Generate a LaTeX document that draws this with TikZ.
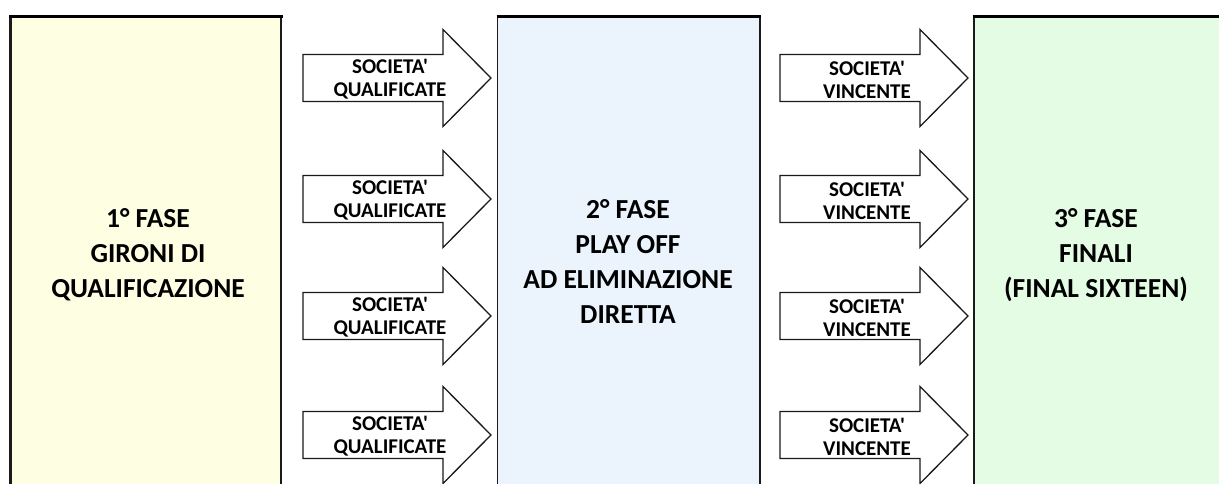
\documentclass[tikz,border=0pt]{standalone}
\usepackage{fontspec}
\setmainfont{Carlito}[Ligatures=TeXOff]
\definecolor{yfill}{HTML}{FEFEE3}
\definecolor{bfill}{HTML}{EBF3FC}
\definecolor{gfill}{HTML}{E4FCE4}
\definecolor{edge}{HTML}{1A1A1A}
\newcommand\phasearrow[3]{%
  \draw[arr] (#1,#2-23.5) -- (#1+140,#2-23.5) -- (#1+140,#2-48.5) -- (#1+188,#2)
    -- (#1+140,#2+48.5) -- (#1+140,#2+23.5) -- (#1,#2+23.5) -- cycle;
  \node[albl] (#3) at (#1+87,#2+1.5) {SOCIETA'\\ \ifnum#1<500 QUALIFICATE\else VINCENTE\fi};}
\begin{document}
\begin{tikzpicture}[x=1pt,y=-1pt,
  phase/.style={font=\bfseries\fontsize{27.5}{35}\selectfont, align=center},
  albl/.style={font=\bfseries\fontsize{21}{23}\selectfont, align=center, inner sep=0pt},
  arr/.style={draw=edge, line width=1.3pt, fill=white, line join=miter},
  topline/.style={draw=black, line width=3pt},
  sideline/.style={draw=edge, line width=#1}]
\useasboundingbox (0,0) rectangle (1219,483);
\clip (0,0) rectangle (1219,483);
% boxes
\fill[yfill] (10.5,15) rectangle (281,500);
\fill[bfill] (497,15) rectangle (760,500);
\fill[gfill] (973,15) rectangle (1225,500);
\draw[sideline=3pt] (10.5,15) -- (10.5,500);
\draw[sideline=2.5pt] (281,15) -- (281,500);
\draw[sideline=1.6pt] (497.5,15) -- (497.5,500);
\draw[sideline=1.8pt] (760,15) -- (760,500);
\draw[sideline=2pt] (973.5,15) -- (973.5,500);
\draw[topline] (9,16) -- (282.5,16);
\draw[topline] (496.5,16) -- (761,16);
\draw[topline] (972.5,16) -- (1225,16);
% phase texts
\node[phase] (p1) at (148,255) {1° FASE\\GIRONI DI\\QUALIFICAZIONE};
\node[phase] (p2) at (628,261) {2° FASE\\PLAY OFF\\AD ELIMINAZIONE\\DIRETTA};
\node[phase] (p3) at (1096,255) {3° FASE\\FINALI\\(FINAL SIXTEEN)};
% arrows
\phasearrow{303}{78}{q1}
\phasearrow{303}{199}{q2}
\phasearrow{303}{316}{q3}
\phasearrow{303}{435}{q4}
\phasearrow{780}{78}{v1}
\phasearrow{780}{199}{v2}
\phasearrow{780}{316}{v3}
\phasearrow{780}{435}{v4}
\end{tikzpicture}
\end{document}
